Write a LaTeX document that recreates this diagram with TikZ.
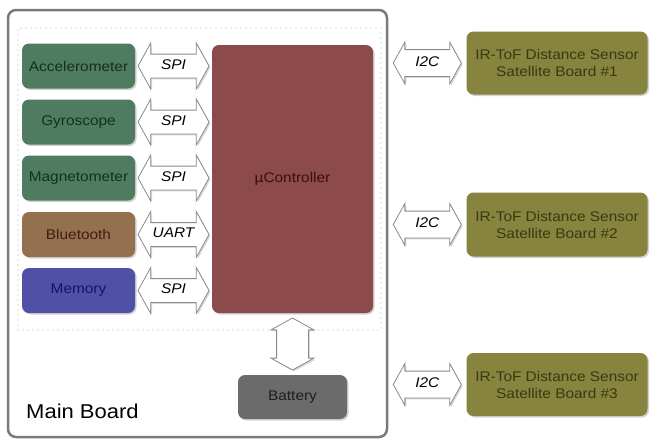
\documentclass[tikz,border=0pt]{standalone}
\usepackage{fontspec}
\setmainfont[FakeStretch=1.1]{Liberation Sans}
\usepackage{tikz}
\usetikzlibrary{calc,positioning,shapes.arrows,shadows}
\definecolor{frameline}{HTML}{7A7A7A}
\definecolor{dotline}{HTML}{B4B4B4}
\definecolor{busline}{HTML}{8A8A8A}
\definecolor{imufill}{HTML}{4F7C60}
\definecolor{imutext}{HTML}{12301D}
\definecolor{btfill}{HTML}{95704F}
\definecolor{bttext}{HTML}{3A2010}
\definecolor{memfill}{HTML}{5050A6}
\definecolor{memtext}{HTML}{141460}
\definecolor{mcufill}{HTML}{8C4A4A}
\definecolor{mcutext}{HTML}{3A0F0F}
\definecolor{batfill}{HTML}{6B6B6B}
\definecolor{battext}{HTML}{1E1E1E}
\definecolor{tofill}{HTML}{86843F}
\definecolor{toftext}{HTML}{3A3A0E}

\begin{document}
\begin{tikzpicture}[x=1pt, y=-1pt, every node/.style={font=\fontsize{14}{17}\selectfont, align=center, inner sep=2pt},
  blockbox/.style={rounded corners=7pt, drop shadow={opacity=0.35, shadow xshift=1.5pt, shadow yshift=-1.5pt}},
  bus/.style={double arrow, draw=busline, fill=white, line width=0.8pt, font=\fontsize{14}{17}\selectfont\itshape,
    text height=8pt, text depth=2pt, inner xsep=0pt, double arrow tip angle=122,
    drop shadow={opacity=0.3, shadow xshift=1.5pt, shadow yshift=-1.5pt}}]
\useasboundingbox (0,0) rectangle (652,439);
% main board frame
\node[draw=frameline, line width=2.5pt, rounded corners=8pt, fill=white, minimum width=379pt, minimum height=427pt] (mainbrd) at (197.5,223.5) {};
\node[draw=dotline, line width=1.2pt, line cap=round, dash pattern=on 0pt off 5pt, minimum width=363pt, minimum height=302pt] (core) at (199.5,179) {};
\node[anchor=base west, font=\fontsize{20}{24}\selectfont] (mainlbl) at (24,418) {Main Board};
% sensors on the main board
\node[blockbox, fill=imufill, text=imutext, minimum width=113pt, minimum height=45pt] (acc) at (78.5,66) {Accelerometer};
\node[blockbox, fill=imufill, text=imutext, minimum width=113pt, minimum height=45pt] (gyro) at (78.5,122) {Gyroscope};
\node[blockbox, fill=imufill, text=imutext, minimum width=113pt, minimum height=45pt] (mag) at (78.5,178) {Magnetometer};
\node[blockbox, fill=btfill, text=bttext, minimum width=113pt, minimum height=45pt] (bt) at (78.5,234.5) {Bluetooth};
\node[blockbox, fill=memfill, text=memtext, minimum width=113pt, minimum height=45pt] (mem) at (78.5,290.5) {Memory};
\node[blockbox, fill=mcufill, text=mcutext, minimum width=161pt, minimum height=268pt] (mcu) at (292.5,179) {µController};
\node[blockbox, fill=batfill, text=battext, minimum width=109pt, minimum height=44pt] (bat) at (292.5,397) {Battery};
% satellite boards
\node[blockbox, fill=tofill, text=toftext, minimum width=181pt, minimum height=63pt] (tof1) at (557,63) {IR-ToF Distance Sensor\\Satellite Board \#1};
\node[blockbox, fill=tofill, text=toftext, minimum width=181pt, minimum height=64pt] (tof2) at (557,224.5) {IR-ToF Distance Sensor\\Satellite Board \#2};
\node[blockbox, fill=tofill, text=toftext, minimum width=181pt, minimum height=63pt] (tof3) at (557,384.5) {IR-ToF Distance Sensor\\Satellite Board \#3};
% buses
\path (acc.east) -- node[bus, minimum height=71pt, inner ysep=6.5pt, double arrow head extend=11pt] (b1) {SPI} (acc.east -| mcu.west);
\path (gyro.east) -- node[bus, minimum height=71pt, inner ysep=6.5pt, double arrow head extend=11pt] (b2) {SPI} (gyro.east -| mcu.west);
\path (mag.east) -- node[bus, minimum height=71pt, inner ysep=6.5pt, double arrow head extend=11pt] (b3) {SPI} (mag.east -| mcu.west);
\path (bt.east) -- node[bus, minimum height=71pt, inner ysep=6.5pt, double arrow head extend=11pt] (b4) {UART} (bt.east -| mcu.west);
\path (mem.east) -- node[bus, minimum height=71pt, inner ysep=6.5pt, double arrow head extend=11pt] (b5) {SPI} (mem.east -| mcu.west);
\path (mcu.south) -- node[bus, rotate=90, minimum height=52pt, inner ysep=10.5pt, double arrow head extend=5.5pt] (b6) {} (bat.north);
\path (tof1.west -| mainbrd.east) -- node[bus, minimum height=68pt, inner ysep=8pt, double arrow head extend=7.5pt] (b7) {I2C} (tof1.west);
\path (tof2.west -| mainbrd.east) -- node[bus, minimum height=68pt, inner ysep=8pt, double arrow head extend=7.5pt] (b8) {I2C} (tof2.west);
\path (tof3.west -| mainbrd.east) -- node[bus, minimum height=68pt, inner ysep=8pt, double arrow head extend=7.5pt] (b9) {I2C} (tof3.west);
\end{tikzpicture}
\end{document}
